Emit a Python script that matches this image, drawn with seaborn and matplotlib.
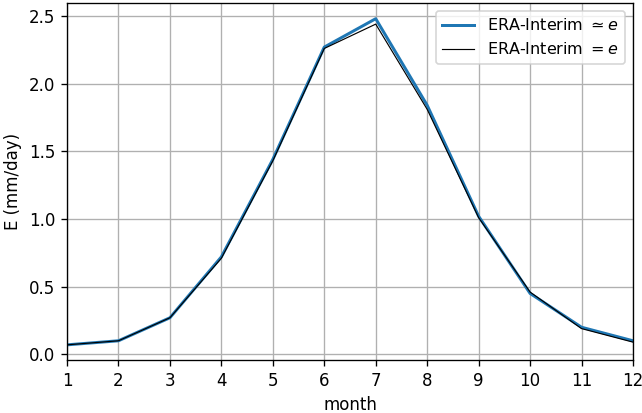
import numpy as np
import pandas as pd
import seaborn as sns
import matplotlib.pyplot as plt

# monthly evaporation
months = [1, 2, 3, 4, 5, 6, 7, 8, 9, 10, 11, 12]
e_approx = [0.07, 0.10, 0.27, 0.72, 1.44, 2.27, 2.48, 1.84, 1.02, 0.45, 0.20, 0.10]
e_exact = [0.07, 0.10, 0.27, 0.71, 1.43, 2.26, 2.44, 1.81, 1.01, 0.46, 0.19, 0.09]

df = pd.DataFrame({"month": months, "approx": e_approx, "exact": e_exact})

plt.rcParams["font.family"] = "DejaVu Sans"
fig, ax = plt.subplots(figsize=(642 / 120, 413 / 120), dpi=120)

sns.lineplot(data=df, x="month", y="approx", ax=ax, color="#1f77b4", linewidth=1.8,
             label=r"ERA-Interim $\simeq e$")
sns.lineplot(data=df, x="month", y="exact", ax=ax, color="black", linewidth=0.7,
             label=r"ERA-Interim $= e$")

ax.set_xlim(1, 12)
ax.set_ylim(-0.042, 2.596)
ax.set_xticks(months)
ax.set_xlabel("month")
ax.set_ylabel("E (mm/day)")
ax.grid(True, color="#b0b0b0", linewidth=0.8)
ax.legend(loc="upper right", fontsize=9.6)

fig.subplots_adjust(left=67 / 642, right=633 / 642, top=1 - 3 / 413, bottom=1 - 360 / 413)
plt.savefig("out.png", dpi=120)
